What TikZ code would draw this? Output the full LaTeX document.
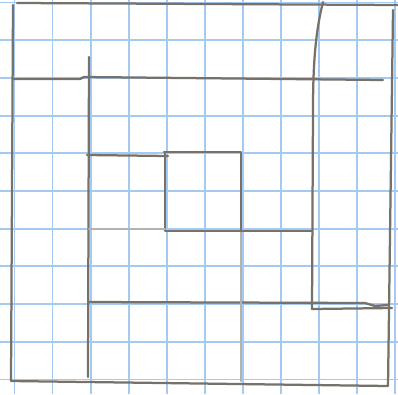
\documentclass[tikz,border=0pt]{standalone}
\definecolor{gridblue}{RGB}{165,202,242}
\definecolor{pencil}{RGB}{118,113,107}
\tikzset{
  pen/.style={line width=1.6pt, draw=pencil, line cap=round, line join=round},
  faintpen/.style={pen, draw=pencil!55}
}

\begin{document}
\begin{tikzpicture}[x=0.025cm,y=-0.025cm]
  \useasboundingbox[fill=white] (0,0) rectangle (398,394);

  % Squared paper
  \foreach \i in {0,...,10}
    \draw[gridblue,line width=1.3pt] ({14.5+38.05*\i},0) -- ({14.5+38.05*\i},394);
  \foreach \j in {0,...,10}
    \draw[gridblue,line width=1.3pt] (0,{2.5+37.7*\j}) -- (398,{2.5+37.7*\j});

  % Outer square
  \draw[pen] (13,5) -- (11,381) -- (388,386) -- (393,10);
  \draw[pen] (17,3) -- (398,5);

  % Second ring
  \draw[pen] (13,79) -- (80,79) -- (84,77) -- (383,80);
  \draw[pen] (323,2) .. controls (316,30) and (313,60) .. (313,110) -- (312,309);
  \draw[pen] (312,309) -- (392,308);
  \draw[pen] (89,57) -- (88,377);
  \draw[pen] (89,302) -- (365,303) -- (375,306) -- (388,305);

  % Inner square
  \draw[pen] (87,155) -- (168,156);
  \draw[pen] (164,152) -- (241,152) -- (241,231);
  \draw[faintpen] (241,231) -- (241,381);
  \draw[pen] (165,152) -- (165,231) -- (312,231);
  \draw[faintpen] (89,229) -- (165,229);
\end{tikzpicture}
\end{document}
